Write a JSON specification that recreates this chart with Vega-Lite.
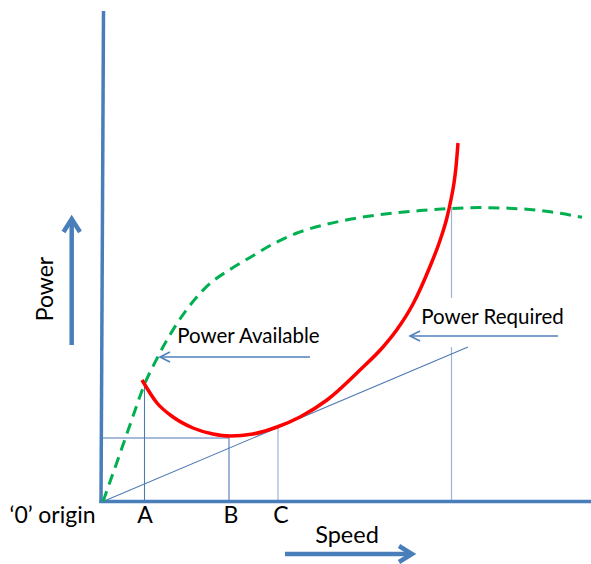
{
  "$schema": "https://vega.github.io/schema/vega-lite/v6.json",
  "width": 591,
  "height": 564,
  "autosize": {"type": "none"},
  "padding": 0,
  "background": "white",
  "config": {"view": {"stroke": null}},
  "datasets": {
    "segs": [
      {"seg": "vaxis", "kind": "axis", "s": -2, "p": -1.5, "o": 0},
      {"seg": "vaxis", "kind": "axis", "s": 0.5, "p": 490.5, "o": 1},
      {"seg": "haxis", "kind": "axis", "s": -3.5, "p": 0, "o": 0},
      {"seg": "haxis", "kind": "axis", "s": 488, "p": 0, "o": 1},
      {"seg": "A", "kind": "thin", "s": 41.5, "p": 114.5, "o": 0},
      {"seg": "A", "kind": "thin", "s": 41.5, "p": 0, "o": 1},
      {"seg": "B", "kind": "thin", "s": 126, "p": 63.5, "o": 0},
      {"seg": "B", "kind": "thin", "s": 126, "p": 0, "o": 1},
      {"seg": "H", "kind": "thin", "s": -1, "p": 63.5, "o": 0},
      {"seg": "H", "kind": "thin", "s": 126, "p": 63.5, "o": 1},
      {"seg": "T", "kind": "thin", "s": 0, "p": 0, "o": 0},
      {"seg": "T", "kind": "thin", "s": 365, "p": 154.5, "o": 1},
      {"seg": "C", "kind": "light", "s": 175, "p": 73.5, "o": 0},
      {"seg": "C", "kind": "light", "s": 175, "p": 0, "o": 1},
      {"seg": "R1", "kind": "light", "s": 348.5, "p": 294.5, "o": 0},
      {"seg": "R1", "kind": "light", "s": 348.5, "p": 203.5, "o": 1},
      {"seg": "R2", "kind": "light", "s": 348.5, "p": 154.5, "o": 0},
      {"seg": "R2", "kind": "light", "s": 348.5, "p": 0, "o": 1},
      {"seg": "PAs", "kind": "pointer", "s": 57, "p": 144.5, "o": 0},
      {"seg": "PAs", "kind": "pointer", "s": 207, "p": 144.5, "o": 1},
      {"seg": "PAh", "kind": "pointer", "s": 67, "p": 149.5, "o": 0},
      {"seg": "PAh", "kind": "pointer", "s": 57, "p": 144.5, "o": 1},
      {"seg": "PAh", "kind": "pointer", "s": 67, "p": 139.5, "o": 2},
      {"seg": "PRs", "kind": "pointer", "s": 307, "p": 165.5, "o": 0},
      {"seg": "PRs", "kind": "pointer", "s": 455, "p": 165.5, "o": 1},
      {"seg": "PRh", "kind": "pointer", "s": 317, "p": 170.5, "o": 0},
      {"seg": "PRh", "kind": "pointer", "s": 307, "p": 165.5, "o": 1},
      {"seg": "PRh", "kind": "pointer", "s": 317, "p": 160.5, "o": 2},
      {"seg": "SPs", "kind": "big", "s": 182, "p": -52.5, "o": 0},
      {"seg": "SPs", "kind": "big", "s": 307, "p": -52.5, "o": 1},
      {"seg": "SPh", "kind": "big", "s": 296, "p": -44.5, "o": 0},
      {"seg": "SPh", "kind": "big", "s": 309, "p": -52.5, "o": 1},
      {"seg": "SPh", "kind": "big", "s": 296, "p": -60.5, "o": 2},
      {"seg": "PWs", "kind": "big", "s": -31.3, "p": 156.5, "o": 0},
      {"seg": "PWs", "kind": "big", "s": -31.3, "p": 281.5, "o": 1},
      {"seg": "PWh", "kind": "big", "s": -39.5, "p": 269.5, "o": 0},
      {"seg": "PWh", "kind": "big", "s": -31.3, "p": 282.5, "o": 1},
      {"seg": "PWh", "kind": "big", "s": -23, "p": 269.5, "o": 2}
    ],
    "available": [
      {"s": 0, "p": 0}, {"s": 17, "p": 48}, {"s": 32, "p": 91}, {"s": 40, "p": 113.5},
      {"s": 54, "p": 143}, {"s": 74, "p": 178}, {"s": 90, "p": 200}, {"s": 107, "p": 218},
      {"s": 127, "p": 232}, {"s": 147, "p": 244}, {"s": 170, "p": 257.5}, {"s": 194, "p": 268.5},
      {"s": 220, "p": 276.3}, {"s": 247, "p": 282.2}, {"s": 280, "p": 287.2}, {"s": 317, "p": 290.9},
      {"s": 347, "p": 293}, {"s": 377, "p": 293.9}, {"s": 417, "p": 292.7}, {"s": 447, "p": 289.7},
      {"s": 479, "p": 284.3}
    ],
    "required": [
      {"s": 39, "p": 121.5}, {"s": 54, "p": 98.5}, {"s": 70, "p": 84.5}, {"s": 90, "p": 73.5},
      {"s": 110, "p": 67.5}, {"s": 127, "p": 65.5}, {"s": 150, "p": 67.5}, {"s": 174, "p": 74.5},
      {"s": 197, "p": 84.5}, {"s": 224, "p": 101.5}, {"s": 257, "p": 131.5}, {"s": 280, "p": 154.5},
      {"s": 294, "p": 172}, {"s": 310, "p": 197.5}, {"s": 327, "p": 235}, {"s": 337, "p": 261},
      {"s": 344, "p": 284}, {"s": 348, "p": 302}, {"s": 351, "p": 318.5}, {"s": 353, "p": 334.5},
      {"s": 355, "p": 358.5}
    ],
    "labels": [
      {"label": "‘0’ origin", "s": -50.5, "p": -21.5},
      {"label": "A", "s": 42, "p": -21.5},
      {"label": "B", "s": 128, "p": -21.5},
      {"label": "C", "s": 178, "p": -21}
    ],
    "pointerlabels": [
      {"label": "Power Available", "s": 145.5, "p": 158.5},
      {"label": "Power Required", "s": 389.5, "p": 177.5}
    ],
    "speedlabel": [{"label": "Speed", "s": 244, "p": -41.5}],
    "powerlabel": [{"label": "Power", "s": -50, "p": 212.5}]
  },
  "encoding": {
    "x": {"field": "s", "type": "quantitative", "scale": {"domain": [-103, 488], "nice": false, "zero": false}, "axis": null},
    "y": {"field": "p", "type": "quantitative", "scale": {"domain": [-62.5, 501.5], "nice": false, "zero": false}, "axis": null}
  },
  "layer": [
    {
      "data": {"name": "segs"},
      "transform": [{"filter": "datum.kind === 'light'"}],
      "mark": {"type": "line", "color": "#9db3d6", "strokeWidth": 1.2},
      "encoding": {"detail": {"field": "seg"}, "order": {"field": "o"}}
    },
    {
      "data": {"name": "segs"},
      "transform": [{"filter": "datum.kind === 'thin'"}],
      "mark": {"type": "line", "color": "#4f79b4", "strokeWidth": 1.1},
      "encoding": {"detail": {"field": "seg"}, "order": {"field": "o"}}
    },
    {
      "data": {"name": "segs"},
      "transform": [{"filter": "datum.kind === 'pointer'"}],
      "mark": {"type": "line", "color": "#4f81bd", "strokeWidth": 1.6},
      "encoding": {"detail": {"field": "seg"}, "order": {"field": "o"}}
    },
    {
      "data": {"name": "segs"},
      "transform": [{"filter": "datum.kind === 'axis'"}],
      "mark": {"type": "line", "color": "#4a7ebb", "strokeWidth": 3.5},
      "encoding": {"detail": {"field": "seg"}, "order": {"field": "o"}}
    },
    {
      "data": {"name": "segs"},
      "transform": [{"filter": "datum.kind === 'big'"}],
      "mark": {"type": "line", "color": "#4a7ebb", "strokeWidth": 4.5, "strokeJoin": "miter"},
      "encoding": {"detail": {"field": "seg"}, "order": {"field": "o"}}
    },
    {
      "data": {"name": "available"},
      "mark": {"type": "line", "color": "#00b050", "strokeWidth": 3, "strokeDash": [11, 7], "interpolate": "monotone"},
      "encoding": {}
    },
    {
      "data": {"name": "required"},
      "mark": {"type": "line", "color": "#ff0000", "strokeWidth": 3.5, "interpolate": "monotone"},
      "encoding": {"order": {"field": "s"}}
    },
    {
      "data": {"name": "labels"},
      "mark": {"type": "text", "font": "Lato", "fontSize": 23, "align": "center", "baseline": "alphabetic", "color": "#000000"},
      "encoding": {"text": {"field": "label"}}
    },
    {
      "data": {"name": "pointerlabels"},
      "mark": {"type": "text", "font": "Lato", "fontSize": 20.5, "align": "center", "baseline": "alphabetic", "color": "#000000"},
      "encoding": {"text": {"field": "label"}}
    },
    {
      "data": {"name": "speedlabel"},
      "mark": {"type": "text", "font": "Lato", "fontSize": 23.5, "align": "center", "baseline": "alphabetic", "color": "#000000"},
      "encoding": {"text": {"field": "label"}}
    },
    {
      "data": {"name": "powerlabel"},
      "mark": {"type": "text", "font": "Lato", "fontSize": 23, "angle": 270, "align": "center", "baseline": "alphabetic", "color": "#000000"},
      "encoding": {"text": {"field": "label"}}
    }
  ]
}
